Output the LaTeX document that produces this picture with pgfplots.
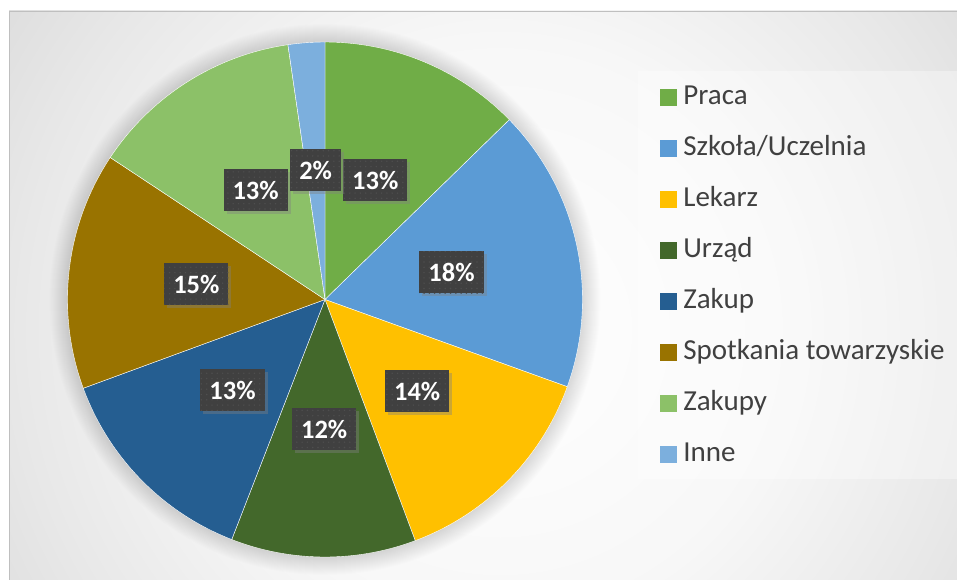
\documentclass[border=0pt]{standalone}
\usepackage{pgfplots}
\pgfplotsset{compat=1.18}
\usepgfplotslibrary{polar}
\usetikzlibrary{shadows,patterns.meta}
\usepackage{fontspec}
\setmainfont{Carlito}

\definecolor{praca}{HTML}{70AD47}
\definecolor{szkola}{HTML}{5B9BD5}
\definecolor{lekarz}{HTML}{FFC000}
\definecolor{urzad}{HTML}{43682B}
\definecolor{zakup}{HTML}{255E91}
\definecolor{spotkania}{HTML}{997300}
\definecolor{zakupy}{HTML}{8CC168}
\definecolor{inne}{HTML}{7CAFDD}
\definecolor{txt}{HTML}{404040}
\definecolor{lab}{HTML}{404040}
\definecolor{dotc}{HTML}{4E4E4E}
\definecolor{frame}{HTML}{BFBFBF}

% chart area: radial gradient, white in the middle, grey in the corners
\pgfdeclareradialshading{chartbg}{\pgfpoint{0bp}{0bp}}{%
  color(0bp)=(white); color(12bp)=(white!97!black);
  color(20bp)=(white!91!black); color(27bp)=(white!85!black);
  color(41bp)=(white!78!black); color(44bp)=(white!75!black);
  color(50bp)=(white!71!black)}

\begin{document}
\begin{tikzpicture}[x=1pt,y=1pt]
  \useasboundingbox (0,0) rectangle (957,-580);
  \fill[white] (0,0) rectangle (957,-580);
  \begin{scope}
    \clip (9,-11) rectangle (957,-580);
    \shade[shading=chartbg] (-100,-930) rectangle (1100,270);
  \end{scope}
  \draw[frame, line width=1pt] (9.5,-580) -- (9.5,-11.5) -- (957,-11.5);
  % legend box
  \fill[white, opacity=0.35] (638,-71) rectangle (957,-479);
  % soft glow round the pie
  \foreach \k in {1,...,18}
    \fill[black, opacity=0.007] (325,-299.5) circle ({257.5+\k});

  \begin{polaraxis}[
      at={(325pt,-299.5pt)}, anchor=center,
      scale only axis, width=515pt, height=515pt,
      ymin=0, ymax=1,
      hide axis, clip=false,
      samples=61,
      every axis plot/.append style={draw=white, line width=0.4pt},
      legend image code/.code={\path[#1, draw=none] (0pt,-8.5pt) rectangle (17pt,8.5pt);},
      legend cell align=left,
      legend style={
        at={(1.1512,0.9167)}, anchor=north west,
        draw=none, fill=none, inner sep=0pt, outer sep=0pt,
        row sep=26pt, column sep=6pt,
        font=\fontsize{29}{34}\selectfont, text=txt,
        nodes={inner sep=0pt, text height=20pt, text depth=5pt},
      },
    ]
    % shares (%): 12.7, 17.8, 13.8, 11.6, 13.5, 14.9, 13.4, 2.3
    % clockwise from the top; polar angles of the slice edges
    \addplot[fill=praca, domain=44.28:90] {1} -- (axis cs:0,0) -- cycle;
    \addlegendentry{Praca}
    \addplot[fill=szkola, domain=-19.8:44.28] {1} -- (axis cs:0,0) -- cycle;
    \addlegendentry{Szkoła/Uczelnia}
    \addplot[fill=lekarz, domain=-69.48:-19.8] {1} -- (axis cs:0,0) -- cycle;
    \addlegendentry{Lekarz}
    \addplot[fill=urzad, domain=-111.24:-69.48] {1} -- (axis cs:0,0) -- cycle;
    \addlegendentry{Urząd}
    \addplot[fill=zakup, domain=-159.84:-111.24] {1} -- (axis cs:0,0) -- cycle;
    \addlegendentry{Zakup}
    \addplot[fill=spotkania, domain=-213.48:-159.84] {1} -- (axis cs:0,0) -- cycle;
    \addlegendentry{Spotkania towarzyskie}
    \addplot[fill=zakupy, domain=-261.72:-213.48] {1} -- (axis cs:0,0) -- cycle;
    \addlegendentry{Zakupy}
    \addplot[fill=inne, domain=-270:-261.72] {1} -- (axis cs:0,0) -- cycle;
    \addlegendentry{Inne}

    % data labels at the middle of each slice
    \addplot[forget plot, draw=none, mark=none,
      point meta=explicit symbolic,
      nodes near coords, nodes near coords align=center,
      every node near coord/.style={
        anchor=center, fill=lab, text=white,
        font=\fontsize{26.5}{30}\selectfont\bfseries,
        inner xsep=9pt, inner ysep=0pt,
        minimum height=42pt, text height=19pt, text depth=0pt,
        drop shadow={shadow xshift=3pt, shadow yshift=-3pt, opacity=0.4},
        postaction={pattern={Dots[distance=5.3pt, radius=0.8pt]}, pattern color=dotc},
      },
    ] coordinates {
      (67.14,0.503) [13\%]
      (12.24,0.503) [18\%]
      (-44.64,0.503) [14\%]
      (-90.36,0.503) [12\%]
      (-135.54,0.503) [13\%]
      (-186.66,0.503) [15\%]
      (-237.6,0.503) [13\%]
      (-265.86,0.503) [2\%]
    };
  \end{polaraxis}
\end{tikzpicture}
\end{document}
